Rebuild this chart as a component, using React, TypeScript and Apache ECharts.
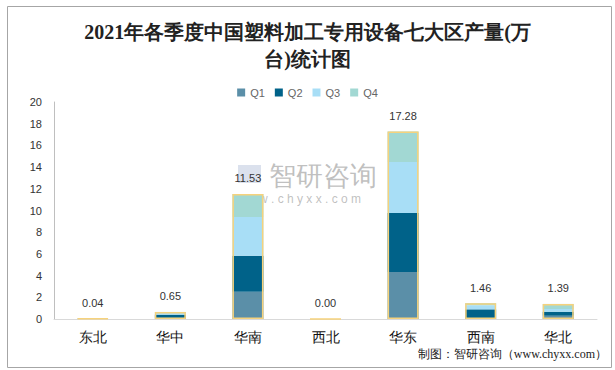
import React, { useEffect, useRef } from "react";
import * as echarts from "echarts";

const categories = ["东北", "华中", "华南", "西北", "华东", "西南", "华北"];
const q1 = [0.01, 0.1, 2.52, 0.0, 4.33, 0.03, 0.3];
const q2 = [0.01, 0.3, 3.31, 0.0, 5.44, 0.86, 0.37];
const q3 = [0.01, 0.15, 3.57, 0.0, 4.7, 0.37, 0.25];
const q4 = [0.01, 0.1, 2.13, 0.0, 2.81, 0.2, 0.47];
const totals = [0.04, 0.65, 11.53, 0.0, 17.28, 1.46, 1.39];
const seriesNames = ["Q1", "Q2", "Q3", "Q4"];
const colors = ["#5B8FA8", "#006289", "#A8DEF6", "#A2D8D3"];

export default function App() {
  const ref = useRef<HTMLDivElement>(null);
  useEffect(() => {
    if (!ref.current) return;
    const chart = echarts.init(ref.current, null, { renderer: "svg" });
    const data = [q1, q2, q3, q4];
    const stacked = seriesNames.map((n, i) => ({
      name: n,
      type: "bar",
      stack: "total",
      barWidth: 31,
      data: data[i],
      itemStyle: { color: colors[i] },
    }));
    chart.setOption({
      animation: false,
      backgroundColor: "#ffffff",
      title: {
        text: "2021年各季度中国塑料加工专用设备七大区产量(万\n台)统计图",
        left: "center",
        top: 13,
        textStyle: {
          fontFamily: "serif",
          fontSize: 20,
          fontWeight: "bold",
          color: "#222",
          lineHeight: 27,
        },
      },
      legend: {
        data: seriesNames,
        top: 82,
        left: "center",
        itemWidth: 8,
        itemHeight: 8,
        itemGap: 10,
        icon: "rect",
        textStyle: { color: "#666", fontSize: 11, fontFamily: "sans-serif" },
      },
      grid: { left: 54, right: 18, top: 102, bottom: 51 },
      xAxis: {
        type: "category",
        data: categories,
        axisTick: { show: false },
        axisLine: { lineStyle: { color: "#d9d9d9" } },
        axisLabel: { color: "#111", fontSize: 14, margin: 11, fontFamily: "sans-serif" },
      },
      yAxis: {
        type: "value",
        min: 0,
        max: 20,
        interval: 2,
        axisLine: { show: true, lineStyle: { color: "#bfbfbf" } },
        axisTick: { show: false },
        splitLine: { show: false },
        axisLabel: { color: "#333", fontSize: 11, margin: 12, fontFamily: "sans-serif" },
      },
      series: [
        ...stacked,
        {
          name: "总计",
          type: "bar",
          barWidth: 31,
          barGap: "-100%",
          data: totals,
          itemStyle: { color: "rgba(0,0,0,0)", borderColor: "#F6D27C", borderWidth: 1.5 },
          label: {
            show: true,
            position: "top",
            distance: 10,
            color: "#333",
            fontSize: 11,
            fontFamily: "sans-serif",
            formatter: (p: any) => Number(p.value).toFixed(2),
          },
          z: 3,
        },
      ],
      graphic: [
        {
          type: "rect",
          left: 5,
          top: 4,
          shape: { x: 0, y: 0, width: 604, height: 361 },
          style: { fill: "none", stroke: "#a6a6a6", lineWidth: 1 },
          silent: true,
        },
        {
          type: "rect",
          shape: { x: 238, y: 165, width: 23, height: 18 },
          style: { fill: "rgba(190,200,222,0.55)" },
          silent: true,
        },
        {
          type: "text",
          x: 269,
          y: 162,
          style: {
            text: "智研咨询",
            fontSize: 27,
            fill: "rgba(150,150,150,0.6)",
            fontFamily: "sans-serif",
          },
          silent: true,
        },
        {
          type: "text",
          x: 235,
          y: 193,
          style: {
            text: "w w w . c h y x x . c o m",
            fontSize: 12,
            fill: "rgba(150,150,150,0.6)",
            fontFamily: "sans-serif",
          },
          silent: true,
        },
        {
          type: "text",
          right: 8,
          top: 348,
          style: {
            text: "制图：智研咨询（www.chyxx.com）",
            fontSize: 12,
            fill: "#222",
            fontFamily: "serif",
          },
          silent: true,
        },
      ],
    });
    return () => chart.dispose();
  }, []);
  return (
    <div
      ref={ref}
      style={{ position: "fixed", left: 0, top: 0, width: 615, height: 370 }}
    />
  );
}
